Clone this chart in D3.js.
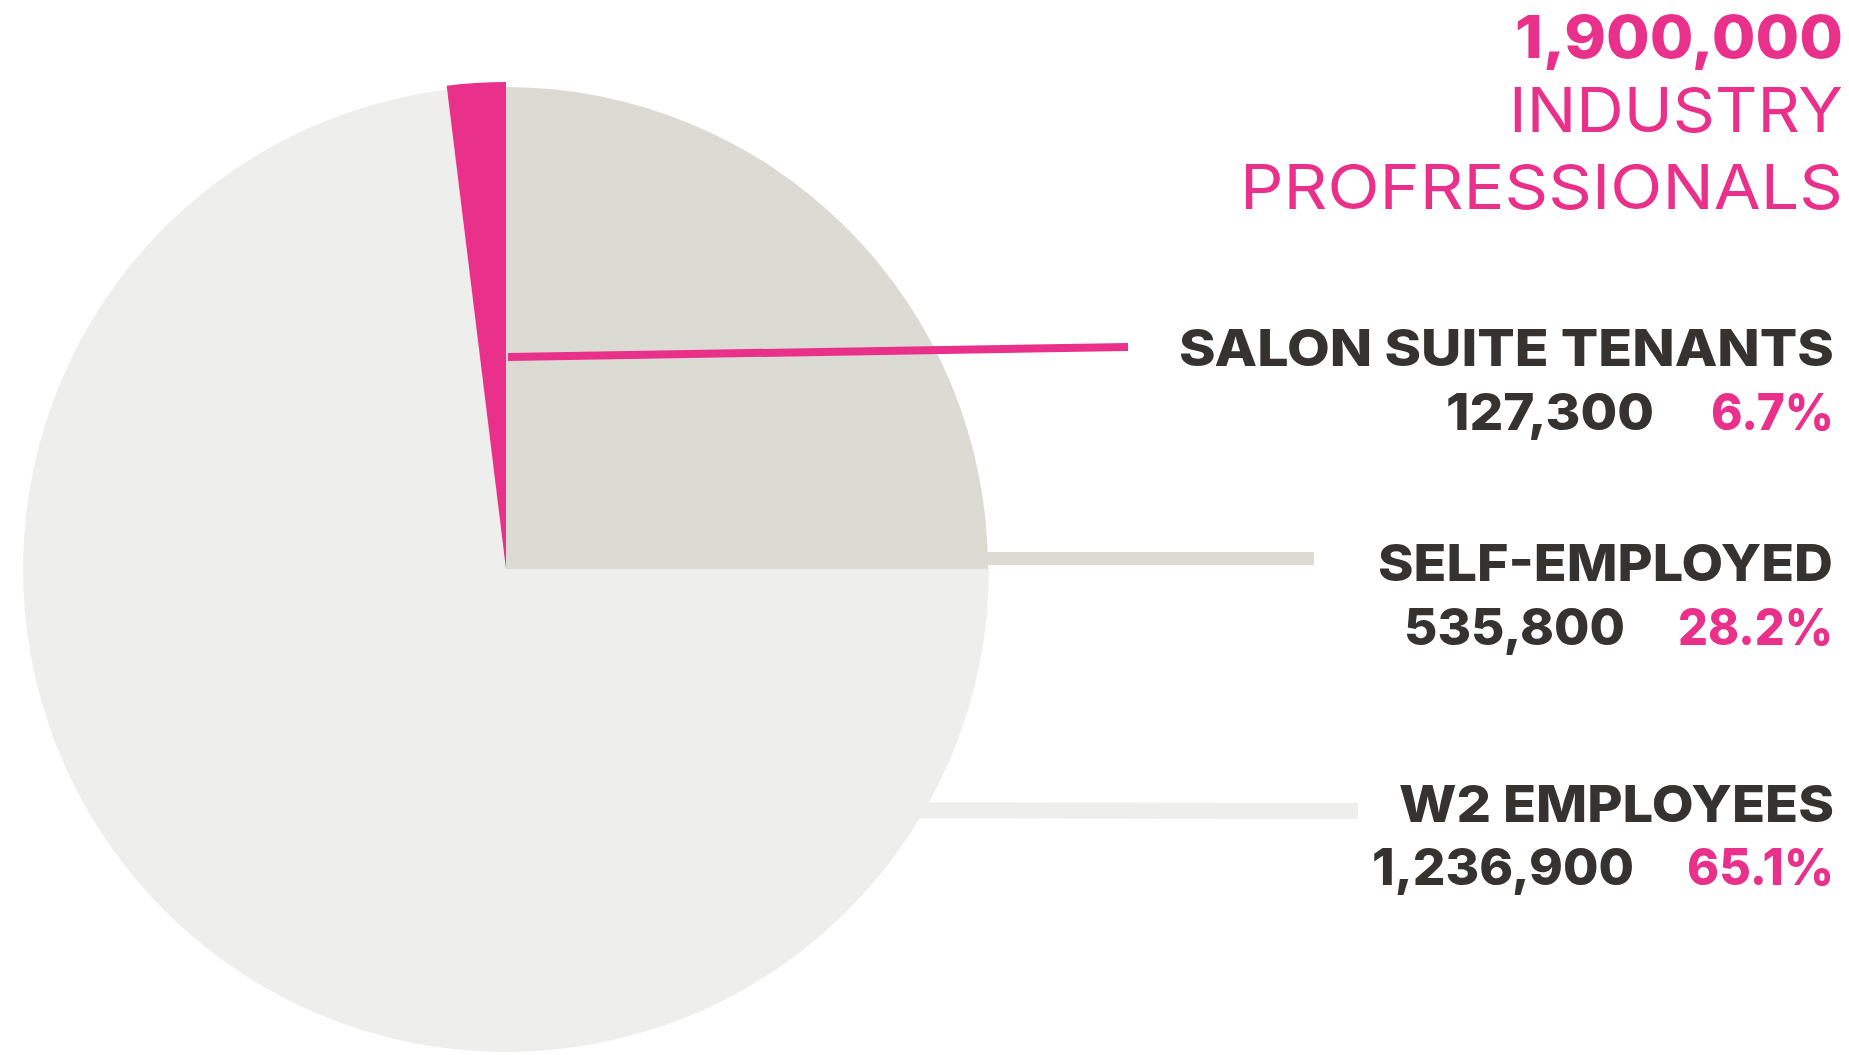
<!DOCTYPE html>
<html>
<head>
<meta charset="utf-8">
<script src="https://cdn.jsdelivr.net/npm/d3@7"></script>
<style>
  html, body { margin: 0; padding: 0; background: #ffffff; }
  svg { display: block; }
  text { font-family: Inter, "Noto Sans", Lato, sans-serif; }
</style>
</head>
<body>
<svg id="chart" width="1849" height="1055"></svg>
<script>
// ---------------- DATA ----------------
const categories = ["SALON SUITE TENANTS", "SELF-EMPLOYED", "W2 EMPLOYEES"];
const counts = [127300, 535800, 1236900];
// slice sizes as drawn in the picture (degrees of the circle)
const drawnDegrees = [7, 90, 263];
const titleLines = ["INDUSTRY", "PROFRESSIONALS"];

// ---------------- STYLE / LAYOUT ----------------
const pink = "#E9308A", dark = "#353230";
const sliceFill = ["#E9308A", "#DBDAD3", "#EEEEEC"];
const sliceRadius = [487, 482, 483];
const cx = 506, cy = 569;

const svg = d3.select("#chart");
const total = d3.sum(counts);
const fmtNum = d3.format(",");
const fmtPct = d3.format(".1%");

const start = -drawnDegrees[0] * Math.PI / 180;
const pie = d3.pie().sort(null).value(d => d)
  .startAngle(start).endAngle(start + 2 * Math.PI);
const arcs = pie(drawnDegrees);
const arc = d3.arc().innerRadius(0);

const g = svg.append("g").attr("transform", `translate(${cx},${cy})`);
// draw light, then grey, then pink on top
[2, 1, 0].forEach(i => {
  g.append("path")
    .attr("d", arc.outerRadius(sliceRadius[i])(arcs[i]))
    .attr("fill", sliceFill[i]);
});

// leader lines (layout)
const leaders = [
  { x1: cx + 2, y1: 357, x2: 1128, y2: 347, w: 8, c: sliceFill[0] },
  { x1: cx + sliceRadius[1] - 1, y1: 558.5, x2: 1314, y2: 558.5, w: 13, c: sliceFill[1] },
  { x1: cx, y1: 810, x2: 1358, y2: 811, w: 16, c: sliceFill[2] }
];
svg.selectAll("line.leader").data(leaders).join("line")
  .attr("class", "leader")
  .attr("x1", d => d.x1).attr("y1", d => d.y1)
  .attr("x2", d => d.x2).attr("y2", d => d.y2)
  .attr("stroke", d => d.c).attr("stroke-width", d => d.w);

// helper for text with fitted width
function txt(str, x, y, size, weight, color, width) {
  const t = svg.append("text")
    .attr("x", x).attr("y", y)
    .attr("font-size", size).attr("font-weight", weight)
    .attr("fill", color)
    .text(str);
  if (width) t.attr("textLength", width).attr("lengthAdjust", "spacingAndGlyphs");
  return t;
}

// title
txt(fmtNum(total), 1515, 58, 59, 800, pink, 328);
txt(titleLines[0], 1509, 132, 62, 400, pink, 334);
txt(titleLines[1], 1240, 209, 62, 400, pink, 603);

// labels
const labelLayout = [
  { nameX: 1179, nameW: 655, nameY: 366, numX: 1446, numW: 208, pctX: 1711, pctW: 123, valY: 430 },
  { nameX: 1378, nameW: 455, nameY: 581, numX: 1404, numW: 221, pctX: 1678, pctW: 155, valY: 645 },
  { nameX: 1399, nameW: 435, nameY: 822, numX: 1372, numW: 262, pctX: 1687, pctW: 147, valY: 885 }
];
categories.forEach((c, i) => {
  const L = labelLayout[i];
  txt(c, L.nameX, L.nameY, 51, 800, dark, L.nameW);
  txt(fmtNum(counts[i]), L.numX, L.valY, 51, 800, dark, L.numW);
  txt(fmtPct(counts[i] / total), L.pctX, L.valY, 51, 800, pink, L.pctW);
});
</script>
</body>
</html>
